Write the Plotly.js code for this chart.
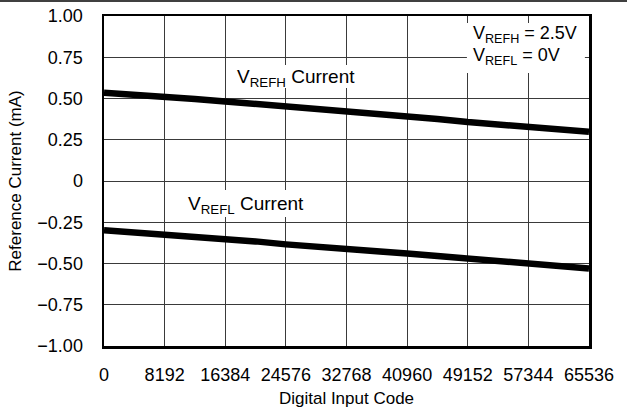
<!DOCTYPE html>
<html>
<head>
<meta charset="utf-8">
<script src="https://cdn.plot.ly/plotly-3.0.1.min.js"></script>
<style>html,body{margin:0;padding:0;background:#fff;}#chart{width:627px;height:410px;}</style>
</head>
<body>
<div id="chart"></div>
<script>
// Digital input codes (x)
const codes = [0, 4096, 8192, 12288, 16384, 20480, 24576, 28672, 32768, 36864, 40960, 45056, 49152, 53248, 57344, 61440, 65536];
// VREFH current (mA)
const vrefhCurrent = [0.535, 0.525, 0.51, 0.497, 0.482, 0.467, 0.453, 0.44, 0.428, 0.41, 0.393, 0.376, 0.357, 0.341, 0.326, 0.311, 0.298];
// VREFL current (mA)
const vreflCurrent = [-0.298, -0.31, -0.325, -0.338, -0.35, -0.366, -0.384, -0.396, -0.41, -0.425, -0.44, -0.455, -0.47, -0.486, -0.5, -0.515, -0.53];
const xTicks = [0, 8192, 16384, 24576, 32768, 40960, 49152, 57344, 65536];
const yTicks = [-1, -0.75, -0.5, -0.25, 0, 0.25, 0.5, 0.75, 1];
const yTickText = ['−1.00', '−0.75', '−0.50', '−0.25', '0', '0.25', '0.50', '0.75', '1.00'];

const fam = 'Liberation Sans, Arial, Helvetica, sans-serif';
const font = {family: fam, size: 18, color: '#000'};
const titleFont = {family: fam, size: 17, color: '#000'};
const labelFont = {family: fam, size: 19, color: '#000'};

const traces = [
  {x: codes, y: vrefhCurrent, mode: 'lines', line: {color: '#000', width: 6.5}, hoverinfo: 'skip'},
  {x: codes, y: vreflCurrent, mode: 'lines', line: {color: '#000', width: 6.5}, hoverinfo: 'skip'}
];

const layout = {
  width: 627, height: 410,
  margin: {l: 104, r: 38, t: 16, b: 64},
  paper_bgcolor: '#fff', plot_bgcolor: '#fff',
  showlegend: false,
  font: font,
  xaxis: {
    range: [0, 65536], tickvals: xTicks, ticktext: xTicks.map(String),
    showgrid: true, gridcolor: '#3a3a3a', gridwidth: 1, zeroline: false,
    showline: true, linecolor: '#000', linewidth: 2.5, mirror: true,
    ticks: '', ticklabelstandoff: 11,
    tickfont: font,
    title: {text: 'Digital Input Code', font: titleFont, standoff: 8}
  },
  yaxis: {
    range: [-1, 1], tickvals: yTicks, ticktext: yTickText,
    showgrid: true, gridcolor: '#3a3a3a', gridwidth: 1, zeroline: false,
    showline: true, linecolor: '#000', linewidth: 2.5, mirror: true,
    ticks: '', ticklabelstandoff: 15,
    tickfont: font,
    title: {text: 'Reference Current (mA)', font: titleFont, standoff: 12}
  },
  shapes: [
    {type: 'rect', xref: 'x', yref: 'y', x0: 49040, x1: 64980, y0: 0.655, y1: 0.958, fillcolor: '#fff', line: {width: 0}, layer: 'between'},
    {type: 'rect', xref: 'x', yref: 'y', x0: 16617, x1: 34586, y0: 0.564, y1: 0.703, fillcolor: '#fff', line: {width: 0}, layer: 'between'},
    {type: 'rect', xref: 'x', yref: 'y', x0: 8376, x1: 27155, y0: -0.218, y1: -0.055, fillcolor: '#fff', line: {width: 0}, layer: 'between'},
    {type: 'line', xref: 'paper', yref: 'paper', x0: -104/485, x1: 523/485, y0: 1 + 15/330, y1: 1 + 15/330, line: {color: '#000', width: 1.5}}
  ],
  annotations: [
    {x: 25940, y: 0.624, xref: 'x', yref: 'y', text: 'V<sub>REFH</sub> Current', showarrow: false, font: labelFont},
    {x: 19185, y: -0.145, xref: 'x', yref: 'y', text: 'V<sub>REFL</sub> Current', showarrow: false, font: labelFont},
    {x: 49650, y: 0.888, xref: 'x', yref: 'y', xanchor: 'left', text: 'V<sub>REFH</sub> = 2.5V', showarrow: false, font: font},
    {x: 49650, y: 0.752, xref: 'x', yref: 'y', xanchor: 'left', text: 'V<sub>REFL</sub> = 0V', showarrow: false, font: font}
  ]
};

Plotly.newPlot('chart', traces, layout, {displayModeBar: false, staticPlot: true});
</script>
</body>
</html>
